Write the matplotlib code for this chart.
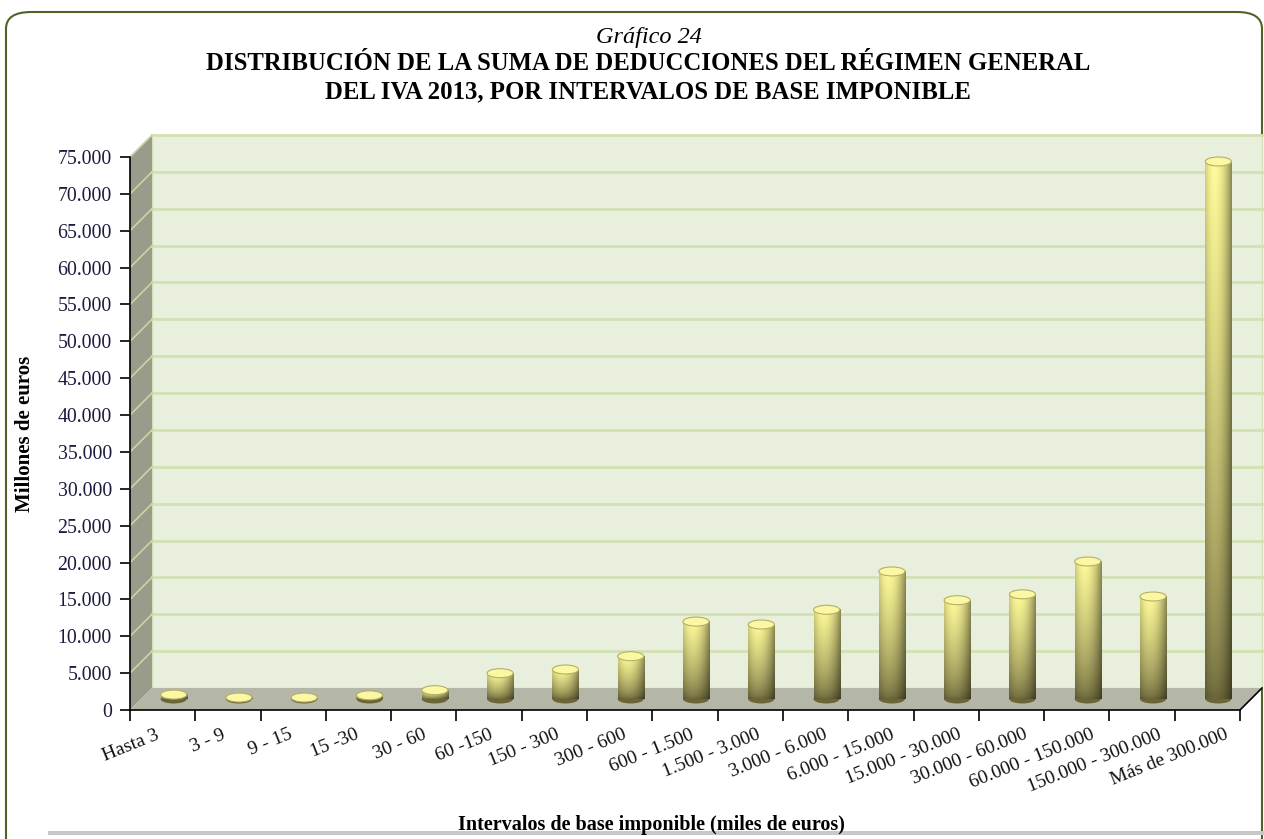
import numpy as np
import matplotlib
matplotlib.use("Agg")
import matplotlib.pyplot as plt
from matplotlib.patches import Polygon, Ellipse, FancyBboxPatch, Rectangle
from matplotlib.ticker import FuncFormatter

categories = ["Hasta 3", "3 - 9", "9 - 15", "15 -30", "30 - 60", "60 -150",
              "150 - 300", "300 - 600", "600 - 1.500", "1.500 - 3.000",
              "3.000 - 6.000", "6.000 - 15.000", "15.000 - 30.000",
              "30.000 - 60.000", "60.000 - 150.000", "150.000 - 300.000",
              "Más de 300.000"]
values = [600, 200, 200, 500, 1200, 3500, 4000, 5800, 10500, 10100,
          12100, 17300, 13400, 14200, 18650, 13900, 72900]
yticks = list(range(0, 75001, 5000))

plt.rcParams['font.family'] = ['Liberation Serif', 'DejaVu Serif']

W, H = 1264, 839
fig = plt.figure(figsize=(W / 100, H / 100), dpi=100)

# outer rounded frame
frame = FancyBboxPatch((6 / W, -30 / H), 1256 / W, 857 / H,
                       boxstyle="round,pad=0,rounding_size=0.02",
                       transform=fig.transFigure, fc='white', ec='#4f6228',
                       lw=1.5, zorder=-10)
fig.patches.append(frame)
fig.patches.append(Rectangle((48 / W, 4 / H), 1216 / W, 4 / H,
                             transform=fig.transFigure, fc='#c8c8c8',
                             ec='none', zorder=-9))

# axes = front plane of the 3d box
x_left, x_right, y_zero, y_top = 130, 1240, 710, 157
ax = fig.add_axes([x_left / W, (H - y_zero) / H,
                   (x_right - x_left) / W, (y_zero - y_top) / H])
n = len(categories)
ax.set_xlim(-0.5, n - 0.5)
ax.set_ylim(0, 75000)
ax.patch.set_visible(False)

# depth offset, 22 px
dx = 22 / ((x_right - x_left) / n)
dy = 22 * 75000 / (y_zero - y_top)

x0w, x1w = -0.5, n - 0.5
# back wall
ax.add_patch(Polygon([(x0w + dx, dy), (x1w + dx, dy), (x1w + dx, 75000 + dy),
                      (x0w + dx, 75000 + dy)], closed=True, fc='#e9efdd',
                     ec='#d3dfb4', lw=1, clip_on=False, zorder=1))
# side wall
ax.add_patch(Polygon([(x0w, 0), (x0w + dx, dy), (x0w + dx, 75000 + dy),
                      (x0w, 75000)], closed=True, fc='#9a9c8b', ec='none',
                     clip_on=False, zorder=1))
# floor
ax.add_patch(Polygon([(x0w, 0), (x1w, 0), (x1w + dx, dy), (x0w + dx, dy)],
                     closed=True, fc='#b4b6a8', ec='none', clip_on=False,
                     zorder=1))
# gridlines
for v in yticks[1:]:
    ax.plot([x0w + dx, x1w + dx], [v + dy, v + dy], color='#d3e0b2', lw=2,
            clip_on=False, zorder=2)
    ax.plot([x0w, x0w + dx], [v, v + dy], color='#c9d6a4', lw=1.2,
            clip_on=False, zorder=2)
ax.plot([x1w, x1w + dx], [0, dy], color='black', lw=1.2, clip_on=False,
        zorder=3)

# bars
bright = np.array([1.0, 0.985, 0.60])
dark = np.array([0.42, 0.40, 0.23])
u = np.linspace(0, 1, 40)
prof = np.where(u < 0.35, 1 - 0.18 * ((0.35 - u) / 0.35) ** 2,
                1 - 0.45 * ((u - 0.35) / 0.65) ** 2)
t = np.linspace(0, 1, 100)[:, None]
bw = 0.40
cap_h = 9 * 75000 / (y_zero - y_top)
for i, v in enumerate(values):
    xc = i + dx / 2
    yb = dy / 2
    yt = v + dy / 2
    base = dark + (bright - dark) * (t ** 0.65)
    img = base[:, None, :] * prof[None, :, None]
    img = np.clip(img, 0, 1)
    ax.add_patch(Ellipse((xc, yb), bw, cap_h, fc='#6b6638', ec='none',
                         clip_on=False, zorder=4))
    im = ax.imshow(img, extent=[xc - bw / 2, xc + bw / 2, yb, yt],
                   origin='lower', aspect='auto', zorder=5,
                   interpolation='bilinear')
    im.set_clip_on(False)
    ax.add_patch(Ellipse((xc, yt), bw, cap_h, fc='#fbf7a4', ec='#b5af62',
                         lw=0.8, clip_on=False, zorder=6))

ax.set_xlim(-0.5, n - 0.5)
ax.set_ylim(0, 75000)

# axes styling
for s in ['top', 'right']:
    ax.spines[s].set_visible(False)
for s in ['left', 'bottom']:
    ax.spines[s].set_color('black')
    ax.spines[s].set_linewidth(1.2)
    ax.spines[s].set_zorder(3)

ax.set_yticks(yticks)
ax.yaxis.set_major_formatter(FuncFormatter(lambda v, p: f"{v:,.0f}".replace(",", ".")))
ax.tick_params(axis='y', direction='out', length=7, width=1.2,
               labelsize=14.3, labelcolor='#1c1c40', pad=6)

# category labels (rotated, under each interval)
ax.set_xticks(np.arange(n + 1) - 0.5)
ax.set_xticklabels([])
ax.tick_params(axis='x', direction='out', length=8, width=1.2)
for i, lab in enumerate(categories):
    ax.text(i - 0.12 + 0.024 * i, -2200, lab, rotation=22, ha='right',
            va='top', rotation_mode='anchor', fontsize=14, color='#111111',
            clip_on=False)

ax.set_ylabel("Millones de euros", fontsize=15, fontweight='bold')
ax.yaxis.set_label_coords((35 - x_left) / (x_right - x_left), 0.5)
fig.text(651 / W, 1 - 825 / H, "Intervalos de base imponible (miles de euros)",
         ha='center', va='center', fontsize=14.5, fontweight='bold')

fig.text(649 / W, 1 - 37 / H, "Gráfico 24", ha='center', va='center',
         fontsize=17.5, style='italic')
fig.text(648 / W, 1 - 64 / H, "DISTRIBUCIÓN DE LA SUMA DE DEDUCCIONES DEL RÉGIMEN GENERAL",
         ha='center', va='center', fontsize=17.8, fontweight='bold')
fig.text(648 / W, 1 - 92 / H, "DEL IVA 2013, POR INTERVALOS DE BASE IMPONIBLE",
         ha='center', va='center', fontsize=17.8, fontweight='bold')

fig.savefig("out.png", dpi=100)
